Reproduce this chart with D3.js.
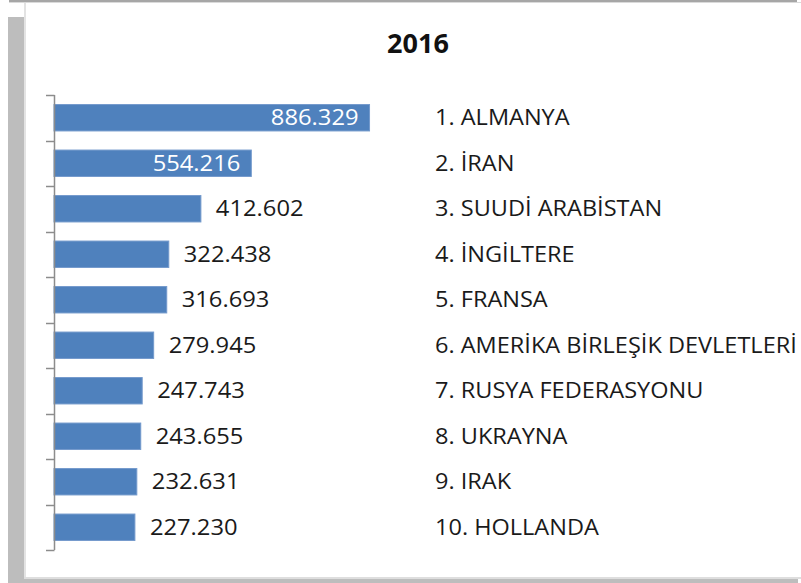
<!DOCTYPE html>
<html>
<head>
<meta charset="utf-8">
<script src="https://cdn.jsdelivr.net/npm/d3@7"></script>
<style>
  html, body { margin: 0; padding: 0; background: #ffffff; }
  svg { display: block; }
</style>
</head>
<body>
<svg id="chart" width="801" height="583"></svg>
<script>
const title = "2016";
const categories = [
  "1. ALMANYA", "2. İRAN", "3. SUUDİ ARABİSTAN", "4. İNGİLTERE", "5. FRANSA",
  "6. AMERİKA BİRLEŞİK DEVLETLERİ", "7. RUSYA FEDERASYONU", "8. UKRAYNA", "9. IRAK", "10. HOLLANDA"
];
const values = [886329, 554216, 412602, 322438, 316693, 279945, 247743, 243655, 232631, 227230];
const valueLabels = ["886.329", "554.216", "412.602", "322.438", "316.693", "279.945", "247.743", "243.655", "232.631", "227.230"];
const insideCount = 2; // first labels drawn inside bar end

const svg = d3.select("#chart");
const FONT = "'Open Sans', 'Noto Sans', sans-serif";

// frame / shadow
svg.append("rect").attr("x", 9).attr("y", 0).attr("width", 788).attr("height", 2).attr("fill", "#a6a6a6");
svg.append("rect").attr("x", 9).attr("y", 2).attr("width", 792).attr("height", 1).attr("fill", "#dadada");
svg.append("rect").attr("x", 8).attr("y", 17).attr("width", 16).attr("height", 566).attr("fill", "#bdbdbd");
svg.append("rect").attr("x", 24).attr("y", 3).attr("width", 2).attr("height", 576).attr("fill", "#e3e3e3");
svg.append("rect").attr("x", 24).attr("y", 577).attr("width", 777).attr("height", 2).attr("fill", "#dedede");
svg.append("rect").attr("x", 8).attr("y", 579).attr("width", 790).attr("height", 4).attr("fill", "#bdbdbd");

const x = d3.scaleLinear().domain([0, 1000000]).range([54, 410]);
const y = d3.scaleBand().domain(categories).range([95, 550]).paddingInner(0.42).paddingOuter(0.21);

// title
svg.append("text")
  .attr("x", 418).attr("y", 53)
  .attr("text-anchor", "middle")
  .attr("font-family", FONT).attr("font-weight", "bold").attr("font-size", 27)
  .attr("fill", "#111")
  .text(title);

// bars
svg.append("g").selectAll("rect")
  .data(values)
  .join("rect")
  .attr("x", x(0))
  .attr("y", (d, i) => y(categories[i]))
  .attr("width", d => x(d) - x(0))
  .attr("height", y.bandwidth())
  .attr("fill", "#4f81bd")
  .attr("stroke", "#7399cc")
  .attr("stroke-width", 1);

// axis with ticks at band boundaries
const bounds = d3.range(categories.length + 1).map(i => 95 + i * (550 - 95) / categories.length);
const axisG = svg.append("g");
axisG.append("line").attr("x1", 54.5).attr("x2", 54.5).attr("y1", bounds[0]).attr("y2", bounds[bounds.length - 1])
  .attr("stroke", "#8c8c8c").attr("stroke-width", 1.5);
axisG.selectAll("line.tick").data(bounds).join("line").attr("class", "tick")
  .attr("x1", 46).attr("x2", 54.5)
  .attr("y1", d => Math.round(d) + 0.5).attr("y2", d => Math.round(d) + 0.5)
  .attr("stroke", "#8c8c8c").attr("stroke-width", 1.5);

function stretch(sel, f) {
  sel.each(function () {
    const w = this.getComputedTextLength();
    d3.select(this).attr("textLength", w * f).attr("lengthAdjust", "spacingAndGlyphs");
  });
}

// value labels
const vl = svg.append("g").selectAll("text")
  .data(values)
  .join("text")
  .attr("font-family", FONT).attr("font-size", 21)
  .attr("y", (d, i) => y(categories[i]) + y.bandwidth() / 2 + 7.5)
  .attr("x", (d, i) => i < insideCount ? x(d) - 11 : x(d) + 15)
  .attr("text-anchor", (d, i) => i < insideCount ? "end" : "start")
  .attr("fill", (d, i) => i < insideCount ? "#ffffff" : "#1a1a1a")
  .text((d, i) => valueLabels[i]);
stretch(vl, 1.13);

// category labels
const cl = svg.append("g").selectAll("text")
  .data(categories)
  .join("text")
  .attr("font-family", FONT).attr("font-size", 21)
  .attr("x", 435)
  .attr("y", d => y(d) + y.bandwidth() / 2 + 7.5)
  .attr("fill", "#1a1a1a")
  .text(d => d);
stretch(cl, 1.12);
</script>
</body>
</html>
